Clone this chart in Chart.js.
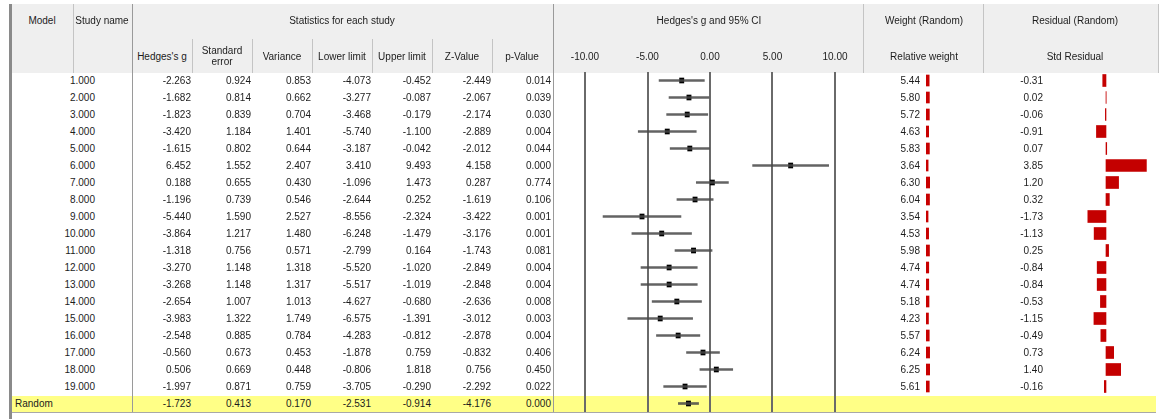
<!DOCTYPE html>
<html>
<head>
<meta charset="utf-8">
<script src="https://cdn.jsdelivr.net/npm/chart.js@4.4.0/dist/chart.umd.min.js"></script>
<style>
  body { margin: 0; background: #fff; width: 1165px; height: 419px; overflow: hidden; position: relative;
         font-family: "Liberation Sans", Arial, sans-serif; font-size: 10px; color: #1c1c1c; }
  .box { position: absolute; }
  .t { position: absolute; height: 14px; line-height: 14px; white-space: nowrap; }
  canvas { position: absolute; }
</style>
</head>
<body>
<div class="box" style="left:12px;top:4px;width:1146px;height:69px;background:#efefef"></div>
<div class="box" style="left:12px;top:396px;width:1144px;height:16px;background:#ffff86"></div>
<div class="box" style="left:12px;top:412px;width:1144px;height:1px;background:#a8a8a8"></div>
<div class="box" style="left:9px;top:4px;width:3px;height:415px;background:#8a8a8a"></div>

<canvas id="forest" width="310" height="374" style="left:555px;top:38px"></canvas>
<canvas id="weight" width="14" height="340" style="left:926px;top:72px"></canvas>
<canvas id="resid" width="95" height="340" style="left:1064px;top:72px"></canvas>

<script>
// study rows
const studyNames = ['1.000','2.000','3.000','4.000','5.000','6.000','7.000','8.000','9.000','10.000',
  '11.000','12.000','13.000','14.000','15.000','16.000','17.000','18.000','19.000'];
const hedgesG = [-2.263,-1.682,-1.823,-3.420,-1.615,6.452,0.188,-1.196,-5.440,-3.864,
  -1.318,-3.270,-3.268,-2.654,-3.983,-2.548,-0.560,0.506,-1.997];
const stdError = [0.924,0.814,0.839,1.184,0.802,1.552,0.655,0.739,1.590,1.217,
  0.756,1.148,1.148,1.007,1.322,0.885,0.673,0.669,0.871];
const variance = [0.853,0.662,0.704,1.401,0.644,2.407,0.430,0.546,2.527,1.480,
  0.571,1.318,1.317,1.013,1.749,0.784,0.453,0.448,0.759];
const lowerLimit = [-4.073,-3.277,-3.468,-5.740,-3.187,3.410,-1.096,-2.644,-8.556,-6.248,
  -2.799,-5.520,-5.517,-4.627,-6.575,-4.283,-1.878,-0.806,-3.705];
const upperLimit = [-0.452,-0.087,-0.179,-1.100,-0.042,9.493,1.473,0.252,-2.324,-1.479,
  0.164,-1.020,-1.019,-0.680,-1.391,-0.812,0.759,1.818,-0.290];
const zValue = [-2.449,-2.067,-2.174,-2.889,-2.012,4.158,0.287,-1.619,-3.422,-3.176,
  -1.743,-2.849,-2.848,-2.636,-3.012,-2.878,-0.832,0.756,-2.292];
const pValue = [0.014,0.039,0.030,0.004,0.044,0.000,0.774,0.106,0.001,0.001,
  0.081,0.004,0.004,0.008,0.003,0.004,0.406,0.450,0.022];
const relWeight = [5.44,5.80,5.72,4.63,5.83,3.64,6.30,6.04,3.54,4.53,
  5.98,4.74,4.74,5.18,4.23,5.57,6.24,6.25,5.61];
const stdResidual = [-0.31,0.02,-0.06,-0.91,0.07,3.85,1.20,0.32,-1.73,-1.13,
  0.25,-0.84,-0.84,-0.53,-1.15,-0.49,0.73,1.40,-0.16];

// random-effects summary row
const summaryLabel = 'Random';
const summary = { g: -1.723, se: 0.413, variance: 0.170, lower: -2.531, upper: -0.914, z: -4.176, p: 0.000 };

const forestTicks = [-10, -5, 0, 5, 10];

const rowLabels = studyNames.concat([summaryLabel]);
const ROW0 = 80.5, ROWH = 17;

function text(str, x, y, align, w) {
  const d = document.createElement('div');
  d.className = 't';
  d.textContent = str;
  w = w || 70;
  d.style.width = w + 'px';
  d.style.top = (y - 7) + 'px';
  d.style.textAlign = align;
  if (align === 'right') d.style.left = (x - w) + 'px';
  else if (align === 'center') d.style.left = (x - w / 2) + 'px';
  else d.style.left = x + 'px';
  document.body.appendChild(d);
}

function vline(x, y1, y2, color) {
  const d = document.createElement('div');
  d.className = 'box';
  d.style.cssText = `left:${x}px;top:${y1}px;width:1px;height:${y2 - y1}px;background:${color}`;
  document.body.appendChild(d);
}

// grid of the table
vline(73, 4, 73, '#c4c4c4');
[192, 252, 312, 372, 432, 492].forEach(x => vline(x, 39, 73, '#c4c4c4'));
vline(863, 4, 73, '#c4c4c4');
vline(983, 4, 73, '#c4c4c4');
vline(1158, 4, 73, '#c4c4c4');
vline(132, 4, 412, '#9a9a9a');
vline(553, 4, 412, '#9a9a9a');

// header
text('Model', 42, 21, 'center');
text('Study name', 102, 21, 'center');
text('Statistics for each study', 342, 21, 'center', 200);
text("Hedges's g and 95% CI", 709, 21, 'center', 200);
text('Weight (Random)', 924, 21, 'center', 110);
text('Residual (Random)', 1075, 21, 'center', 120);
const subHeads = ["Hedges's g", 'Standard', 'Variance', 'Lower limit', 'Upper limit', 'Z-Value', 'p-Value'];
subHeads.forEach((s, i) => text(s, 162 + 60 * i, i === 1 ? 51 : 57, 'center', 60));
text('error', 222, 62, 'center', 60);
text('Relative weight', 924, 57, 'center', 110);
text('Std Residual', 1075, 57, 'center', 110);

// body rows
const colRight = [191, 251, 311, 371, 431, 491, 551];
studyNames.forEach((name, i) => {
  const y = ROW0 + ROWH * i;
  text(name, 95, y, 'right');
  [hedgesG, stdError, variance, lowerLimit, upperLimit, zValue, pValue].forEach((arr, c) => {
    text(arr[i].toFixed(3), colRight[c], y, 'right');
  });
  text(relWeight[i].toFixed(2), 920, y, 'right');
  text(stdResidual[i].toFixed(2), 1043, y, 'right');
});
const ys = ROW0 + ROWH * studyNames.length;
text(summaryLabel, 15, ys, 'left');
[summary.g, summary.se, summary.variance, summary.lower, summary.upper, summary.z, summary.p]
  .forEach((v, c) => text(v.toFixed(3), colRight[c], ys, 'right'));

// forest plot
const ciData = lowerLimit.map((lo, i) => [lo, upperLimit[i]]).concat([[summary.lower, summary.upper]]);
const pointData = hedgesG.concat([summary.g]).map(g => [g - 0.17, g + 0.17]);

new Chart(document.getElementById('forest'), {
  type: 'bar',
  data: {
    labels: rowLabels,
    datasets: [
      { data: ciData, backgroundColor: 'rgba(72,72,72,0.85)', barThickness: 2, grouped: false },
      { data: pointData, backgroundColor: '#000', barThickness: 5, grouped: false }
    ]
  },
  options: {
    indexAxis: 'y',
    responsive: false,
    animation: false,
    devicePixelRatio: 1,
    plugins: { legend: { display: false }, tooltip: { enabled: false } },
    scales: {
      x: {
        position: 'top',
        min: -12.4,
        max: 12.4,
        afterBuildTicks: s => { s.ticks = forestTicks.map(v => ({ value: v })); },
        afterFit: s => { s.height = 34; },
        border: { display: false },
        grid: { color: '#6a6a6a', lineWidth: 2, drawTicks: false },
        ticks: {
          padding: 9,
          color: '#1c1c1c',
          font: { family: '"Liberation Sans", Arial, sans-serif', size: 10 },
          callback: v => v.toFixed(2)
        }
      },
      y: { display: false }
    }
  }
});

// relative weight bars
new Chart(document.getElementById('weight'), {
  type: 'bar',
  data: {
    labels: rowLabels,
    datasets: [{ data: relWeight.concat([null]), backgroundColor: '#c80000', barThickness: 11 }]
  },
  options: {
    indexAxis: 'y',
    responsive: false,
    animation: false,
    devicePixelRatio: 1,
    plugins: { legend: { display: false }, tooltip: { enabled: false } },
    scales: { x: { display: false, min: 0, max: 24 }, y: { display: false } }
  }
});

// standardized residual bars
new Chart(document.getElementById('resid'), {
  type: 'bar',
  data: {
    labels: rowLabels,
    datasets: [{ data: stdResidual.concat([null]), backgroundColor: '#c40000', barThickness: 12 }]
  },
  options: {
    indexAxis: 'y',
    responsive: false,
    animation: false,
    devicePixelRatio: 1,
    plugins: { legend: { display: false }, tooltip: { enabled: false } },
    scales: { x: { display: false, min: -4, max: 5.05 }, y: { display: false } }
  }
});
</script>
</body>
</html>
